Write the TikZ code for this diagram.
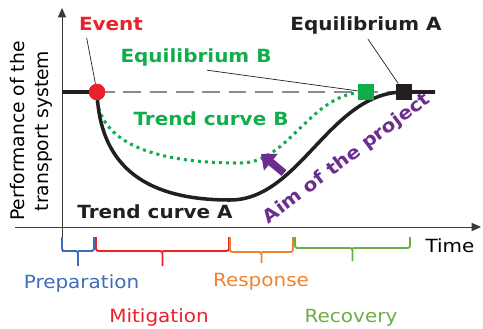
\documentclass[tikz,border=0pt]{standalone}
\usepackage{fontspec}
\setmainfont[FakeStretch=1.1]{DejaVu Sans}
\newfontfamily\axisfont{DejaVu Sans}
\usetikzlibrary{arrows.meta}

\begin{document}
\begin{tikzpicture}[
    x=0.03cm, y=-0.03cm,
    font=\fontsize{15.5}{18}\selectfont,
    axis/.style={draw=axisgray, line width=0.85pt},
    level/.style={draw=dashgray, line width=2.5pt, dash pattern=on 15pt off 7.5pt},
    curveA/.style={draw=ink, line width=3pt},
    curveB/.style={draw=eqgreen, line width=2.6pt, dash pattern=on 2.6pt off 3.4pt},
    leader/.style={draw=ink, line width=0.6pt},
    label/.style={font=\fontsize{15.5}{18}\selectfont\bfseries, inner sep=1pt, anchor=base},
    phase/.style={inner sep=1pt, anchor=base},
    marker/.style={minimum size=14pt, inner sep=0pt},
    brace/.style={line width=1.6pt, rounded corners=2pt},
    aim/.style={draw=aimpurple, line width=6.5pt, -{Triangle[length=11pt,width=18pt]}}
]
\definecolor{ink}{HTML}{231F20}
\definecolor{axisgray}{HTML}{3A3A3A}
\definecolor{dashgray}{HTML}{8C8C8C}
\definecolor{eventred}{HTML}{E8212A}
\definecolor{eqgreen}{HTML}{12AD4B}
\definecolor{aimpurple}{HTML}{6B2E8F}
\definecolor{prep}{HTML}{3D6CB8}
\definecolor{mitig}{HTML}{E8212A}
\definecolor{resp}{HTML}{F0822E}
\definecolor{recov}{HTML}{6BAE45}

\def\base{92}
\useasboundingbox (0,0) rectangle (483,328);

% axes
\draw[axis, -{Triangle[length=8pt,width=7pt]}] (62,252) -- (62,8);
\draw[axis, -{Triangle[length=8pt,width=7pt]}] (15,227) -- (481,227);
\node[font=\axisfont\fontsize{16}{20.4}\selectfont, rotate=90, align=center,
      inner sep=1pt] (ylab) at (31,131) {Performance of the\\transport system};
\node[phase] (time) at (450,252) {Time};

% markers on the undisturbed level
\node[marker, circle, fill=eventred] (dot) at (97,\base) {};
\node[marker, fill=eqgreen] (eqBsq) at (366,\base) {};
\node[marker, fill=ink] (eqAsq) at (404,\base) {};

% undisturbed level, trend curves
\draw[level] (dot.center) -- (432,\base);
\draw[curveB] (97,101) .. controls (105,150) and (170,163) .. (240,163)
  .. controls (290,163) and (310,\base) .. (eqBsq.center);
\draw[curveA] (62,\base) -- (dot.center) .. controls (100,170) and (150,200) .. (230,200)
  .. controls (300,200) and (330,\base) .. (eqAsq.center) -- (435,\base);
\node[marker, circle, fill=eventred] at (dot) {};
\node[marker, fill=eqgreen] at (eqBsq) {};
\node[marker, fill=ink] at (eqAsq) {};

% labels and leaders
\node[label, text=eventred] (event) at (111,30) {Event};
\node[label, text=eqgreen] (eqB) at (196,62) {Equilibrium B};
\node[label, text=ink] (eqA) at (366,30) {Equilibrium A};
\node[label, text=eqgreen] (trendB) at (211,125) {Trend curve B};
\node[label, text=ink] (trendA) at (155,218) {Trend curve A};
\draw[leader] ([shift={(9,6)}]event.south west) -- (dot);
\draw[leader] ([shift={(88,3)}]eqB.south west) -- (eqBsq);
\draw[leader] ([shift={(79,4)}]eqA.south west) -- (eqAsq);

% aim of the project
\coordinate (aimtail) at (284,173);
\coordinate (aimtip) at (261,154);
\draw[aim] (aimtail) -- (aimtip);
\node[label, anchor=center, rotate=37, text=aimpurple] (aimlab) at (347,159) {Aim of the project};

% phases below the time axis
\foreach \a/\b/\h/\t/\c in {62/94/251/266/prep, 96/229/251/266/mitig,
    230/293/252/263/resp, 295/410/248/261/recov} {
  \draw[brace, draw=\c] (\a,237) |- ({(\a+\b)/2},\h) -- ({(\a+\b)/2},\t)
    ({(\a+\b)/2},\h) -| (\b,237);
}
\node[phase, text=prep] (preparation) at (81.5,288) {Preparation};
\node[phase, text=mitig] (mitigation) at (159,322) {Mitigation};
\node[phase, text=resp] (response) at (261,286) {Response};
\node[phase, text=recov] (recovery) at (351,322) {Recovery};
\end{tikzpicture}
\end{document}
